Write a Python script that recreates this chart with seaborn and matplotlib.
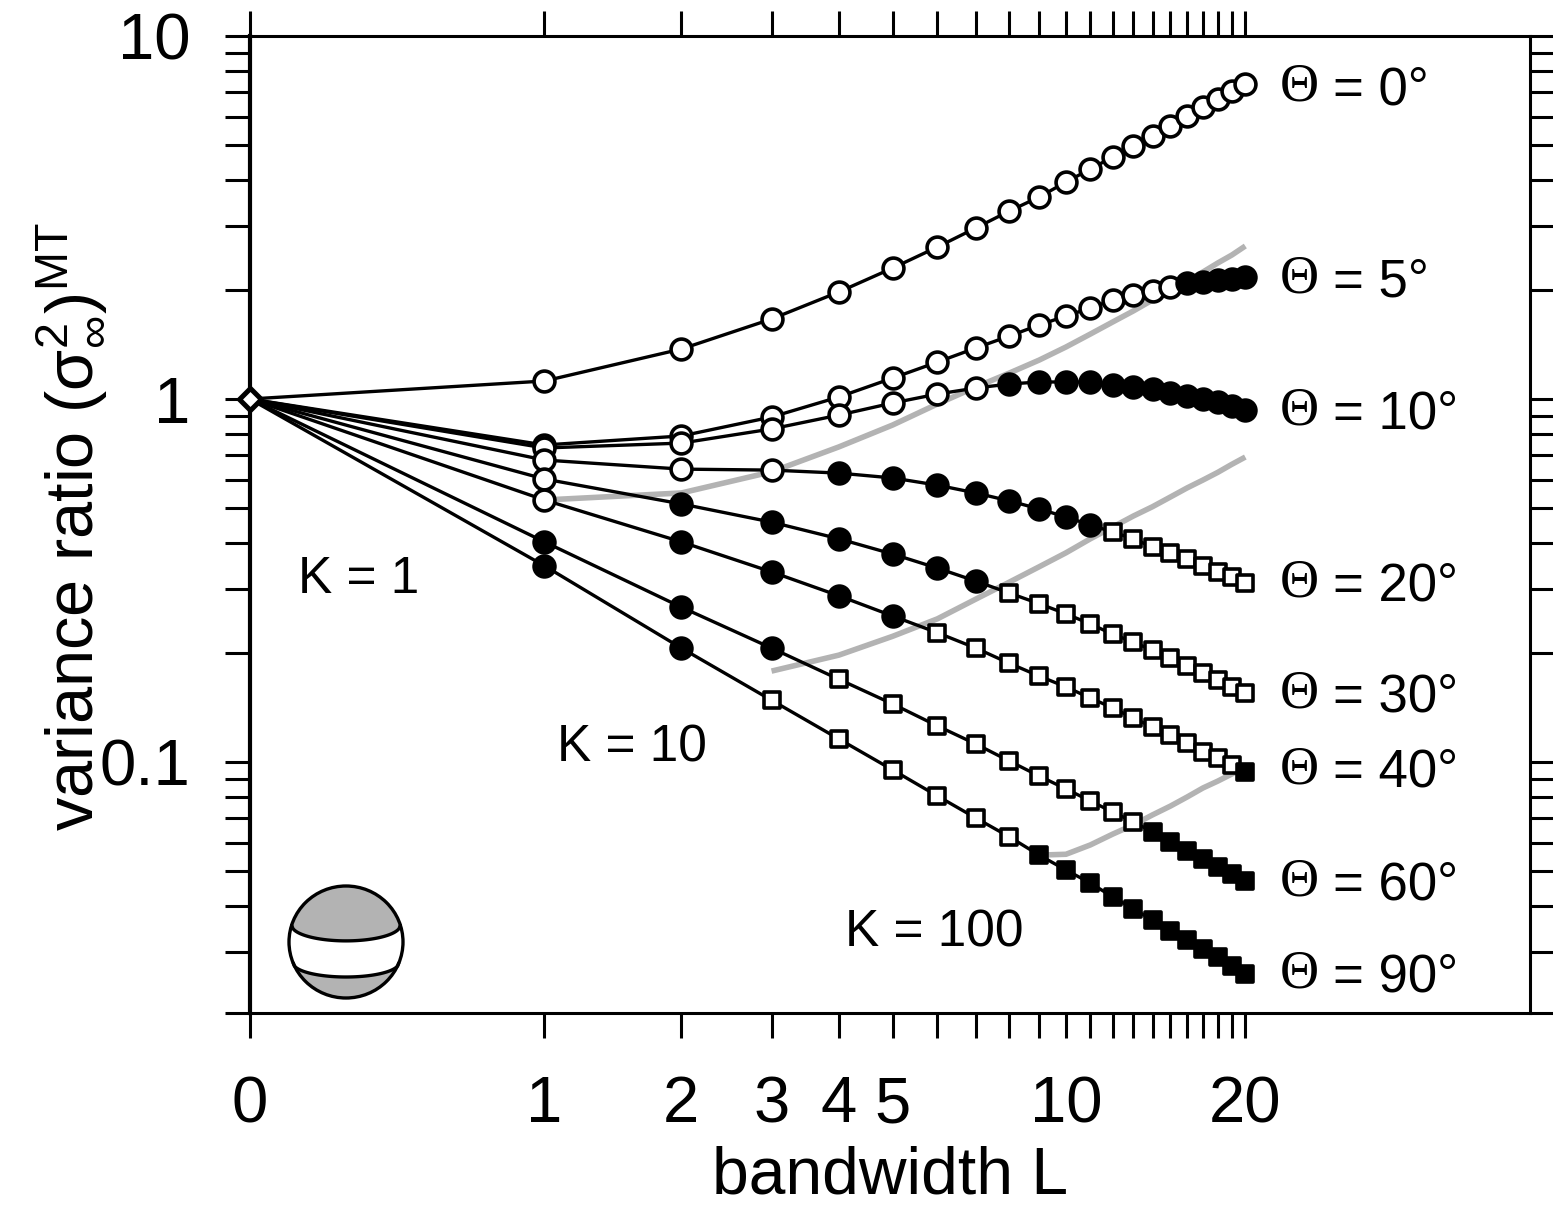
import numpy as np
import pandas as pd
import seaborn as sns
import matplotlib.pyplot as plt
from matplotlib.ticker import FixedLocator, NullLocator
from matplotlib.patches import Circle

# bandwidths and variance ratios
bandwidth = list(range(1, 21))
theta_names = ["0", "5", "10", "20", "30", "40", "60", "90"]

theta_0 = [1.121, 1.373, 1.661, 1.972, 2.295, 2.623, 2.959, 3.295, 3.601, 3.960,
           4.301, 4.642, 4.977, 5.304, 5.650, 6.021, 6.374, 6.707, 7.055, 7.375]
theta_5 = [0.747, 0.791, 0.892, 1.013, 1.142, 1.264, 1.382, 1.491, 1.599, 1.693,
           1.781, 1.874, 1.934, 1.984, 2.035, 2.087, 2.101, 2.127, 2.141, 2.168]
theta_10 = [0.733, 0.756, 0.827, 0.903, 0.975, 1.032, 1.072, 1.100, 1.114, 1.114,
            1.114, 1.093, 1.079, 1.065, 1.039, 1.019, 1.000, 0.981, 0.957, 0.933]
theta_20 = [0.679, 0.641, 0.637, 0.625, 0.606, 0.579, 0.551, 0.524, 0.498, 0.473,
            0.450, 0.430, 0.412, 0.391, 0.377, 0.362, 0.347, 0.334, 0.323, 0.311]
theta_30 = [0.602, 0.514, 0.458, 0.412, 0.374, 0.342, 0.315, 0.292, 0.273, 0.256,
            0.240, 0.225, 0.214, 0.203, 0.193, 0.184, 0.176, 0.168, 0.161, 0.155]
theta_40 = [0.527, 0.404, 0.334, 0.287, 0.2525, 0.227, 0.206, 0.187, 0.1725, 0.161,
            0.150, 0.141, 0.132, 0.125, 0.1187, 0.1128, 0.1065, 0.1026, 0.0981, 0.0939]
theta_60 = [0.404, 0.267, 0.206, 0.169, 0.1445, 0.1257, 0.1121, 0.1006, 0.0915, 0.0843,
            0.0781, 0.0728, 0.0684, 0.0642, 0.0602, 0.0569, 0.0541, 0.0514, 0.0492, 0.0470]
theta_90 = [0.347, 0.206, 0.148, 0.1157, 0.0951, 0.0806, 0.0701, 0.0622, 0.0554, 0.0504,
            0.0464, 0.0425, 0.0394, 0.0367, 0.0342, 0.0323, 0.0305, 0.0290, 0.0274, 0.0261]
all_thetas = [theta_0, theta_5, theta_10, theta_20, theta_30, theta_40, theta_60, theta_90]

# grey curves, one per K
k1_L = list(range(1, 21))
k1_vals = [0.527, 0.551, 0.630, 0.738, 0.848, 0.969, 1.079, 1.179, 1.280, 1.391,
           1.510, 1.630, 1.748, 1.874, 1.997, 2.114, 2.238, 2.370, 2.493, 2.639]
k10_L = list(range(3, 21))
k10_vals = [0.178, 0.197, 0.222, 0.248, 0.281, 0.313, 0.345, 0.377, 0.412, 0.444,
            0.476, 0.505, 0.537, 0.569, 0.598, 0.628, 0.661, 0.692]
k100_L = list(range(9, 21))
k100_vals = [0.0554, 0.0557, 0.0591, 0.0633, 0.0671, 0.0715, 0.0756, 0.0801, 0.0848,
             0.0886, 0.0927, 0.0969]

# which points are open/filled circles/squares: (kind, first L, last L)
runs = [
    [("oc", 1, 20)],
    [("oc", 1, 15), ("fc", 16, 20)],
    [("oc", 1, 7), ("fc", 8, 20)],
    [("oc", 1, 3), ("fc", 4, 11), ("os", 12, 20)],
    [("oc", 1, 1), ("fc", 2, 7), ("os", 8, 20)],
    [("oc", 1, 1), ("fc", 2, 5), ("os", 6, 19), ("fs", 20, 20)],
    [("fc", 1, 3), ("os", 4, 13), ("fs", 14, 20)],
    [("fc", 1, 2), ("os", 3, 8), ("fs", 9, 20)],
]
kinds = {
    "oc": dict(marker="o", s=225, color="white"),
    "fc": dict(marker="o", s=225, color="black"),
    "os": dict(marker="s", s=130, color="white"),
    "fs": dict(marker="s", s=130, color="black"),
}

label_y = [7.28, 2.15, 0.933, 0.313, 0.155, 0.096, 0.047, 0.0262]
k_labels = ["K = 1", "K = 10", "K = 100"]
k_label_x = [0.098, 1.072, 4.105]
k_label_y = [0.318, 0.1095, 0.0338]

xtick_labels = {0: "0", 1: "1", 2: "2", 3: "3", 4: "4", 5: "5", 10: "10", 20: "20"}

sns.set_theme(style="white")
SANS = ["Liberation Sans", "DejaVu Sans"]
plt.rcParams["font.family"] = SANS
plt.rcParams["mathtext.fontset"] = "custom"
plt.rcParams["mathtext.rm"] = "Liberation Sans"
plt.rcParams["mathtext.it"] = "Liberation Sans:italic"
plt.rcParams["mathtext.fallback"] = "cm"

W, H = 1553, 1206
fig = plt.figure(figsize=(W / 100, H / 100), dpi=100, facecolor="white")
ax = fig.add_axes([250 / W, 1 - 1013 / H, 1280 / W, 977 / H])

ax.set_xscale("function", functions=(lambda v: np.log(v + 0.5), lambda v: np.exp(v) - 0.5))
ax.set_yscale("log")

# grey K curves go underneath
for xs, ys in [(k1_L, k1_vals), (k10_L, k10_vals), (k100_L, k100_vals)]:
    sns.lineplot(x=xs, y=ys, color="#b3b3b3", lw=4, ax=ax, legend=False, zorder=1,
                 solid_capstyle="butt")

for i, vals in enumerate(all_thetas):
    df = pd.DataFrame({"L": [0] + bandwidth, "ratio": [1.0] + vals})
    sns.lineplot(data=df, x="L", y="ratio", color="black", lw=2.4, ax=ax, legend=False,
                 zorder=3 + i * 0.1, clip_on=False)
    pts = df[df["L"] > 0]
    for kind, first, last in runs[i]:
        sub = pts[(pts["L"] >= first) & (pts["L"] <= last)]
        sns.scatterplot(data=sub, x="L", y="ratio", edgecolor="black", linewidth=2.6,
                        ax=ax, legend=False, zorder=3 + i * 0.1, clip_on=False, **kinds[kind])

# the common start point
sns.scatterplot(x=[0], y=[1.0], marker="D", s=125, color="white", edgecolor="black",
                linewidth=3.6, ax=ax, legend=False, zorder=5, clip_on=False)

ax.set_xlim(0, 58.8)
ax.set_ylim(0.02035, 10)

ax.xaxis.set_major_locator(FixedLocator(list(range(21))))
ax.xaxis.set_minor_locator(NullLocator())
ax.set_xticklabels([xtick_labels.get(t, "") for t in range(21)])
ax.yaxis.set_major_locator(FixedLocator([0.1, 1, 10]))
ax.set_yticklabels(["0.1", "1", "10"])
minor_y = [m * d for d in [0.01, 0.1, 1] for m in range(2, 10)]
minor_y = [v for v in minor_y if v > 0.0204] + [0.02035]
ax.yaxis.set_minor_locator(FixedLocator(minor_y))
ax.yaxis.set_minor_formatter(plt.NullFormatter())

ax.tick_params(axis="both", which="both", direction="out", length=18, width=2.2,
               left=True, right=True, top=True, bottom=True, colors="black")
ax.tick_params(axis="x", which="major", labelsize=47, pad=27)
ax.tick_params(axis="y", which="major", labelsize=47, pad=25)

for name, spine in ax.spines.items():
    spine.set_color("black")
    spine.set_linewidth(3 if name == "left" else 2.2)

ax.set_xlabel("bandwidth L", fontsize=47.5, color="black", labelpad=7)
ax.set_ylabel("")
fig.text(70 / W, 1 - 527 / H, r"variance ratio ($\mathrm{\sigma}^{2}_{\infty}$)$^{\mathrm{MT}}$",
         rotation=90, fontsize=48, color="black", ha="center", va="center")

# curve labels to the right of L = 20
for name, y in zip(theta_names, label_y):
    ax.annotate("\u0398", xy=(20, y), xytext=(25, -1), textcoords="offset points",
                fontsize=39, family="Liberation Serif", va="center", ha="left", color="black")
    ax.annotate(f"= {name}\u00b0", xy=(20, y), xytext=(63, -3), textcoords="offset points",
                fontsize=38, va="center", ha="left", color="black")

for text, x, y in zip(k_labels, k_label_x, k_label_y):
    ax.text(x, y, text, fontsize=37, va="center", ha="left", color="black")

# small sphere with the shaded caps
ax_s = fig.add_axes([(346 - 60) / W, 1 - (942 + 58) / H, 120 / W, 116 / H])
ax_s.set_xlim(-60 / 57, 60 / 57)
ax_s.set_ylim(-58 / 56, 58 / 56)
ax_s.axis("off")
ax_s.patch.set_alpha(0)
ax_s.add_patch(Circle((0, 0), 1, fc="white", ec="none"))
t = np.linspace(-1, 1, 80)
a1 = np.arcsin(0.30)
top_arc = np.linspace(a1, np.pi - a1, 80)
upper_x = np.r_[np.cos(top_arc), t * np.cos(a1)]
upper_y = np.r_[np.sin(top_arc), 0.30 - 0.28 * np.sqrt(1 - t ** 2)]
ax_s.fill(upper_x, upper_y, color="#b3b3b3", lw=0)
ax_s.plot(t * np.cos(a1), 0.30 - 0.28 * np.sqrt(1 - t ** 2), color="black", lw=2.4)
a2 = np.arcsin(0.375)
bot_arc = np.linspace(np.pi + a2, 2 * np.pi - a2, 80)
mid_y = -0.375 - 0.25 * np.sqrt(1 - t ** 2)
lower_x = np.r_[np.cos(bot_arc), t[::-1] * np.cos(a2)]
lower_y = np.r_[np.sin(bot_arc), mid_y[::-1]]
ax_s.fill(lower_x, lower_y, color="#b3b3b3", lw=0)
ax_s.plot(t * np.cos(a2), mid_y, color="black", lw=2.4)
ax_s.add_patch(Circle((0, 0), 1, fc="none", ec="black", lw=2.4))

fig.savefig("out.png", dpi=100, facecolor="white")
